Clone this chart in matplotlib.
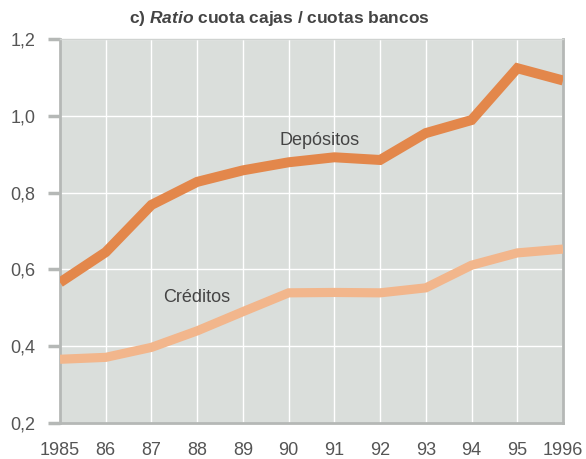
import matplotlib.pyplot as plt
from matplotlib.ticker import FuncFormatter

plt.rcParams['font.family'] = ['Liberation Sans', 'DejaVu Sans']
plt.rcParams['mathtext.fontset'] = 'custom'
plt.rcParams['mathtext.it'] = 'Liberation Sans:italic:bold'

# values
years = [1985, 1986, 1987, 1988, 1989, 1990, 1991, 1992, 1993, 1994, 1995, 1996]
year_labels = ['1985', '86', '87', '88', '89', '90', '91', '92', '93', '94', '95', '1996']
depositos = [0.566, 0.645, 0.768, 0.828, 0.858, 0.879, 0.892, 0.885, 0.955, 0.989, 1.124, 1.092]
creditos = [0.366, 0.371, 0.397, 0.440, 0.490, 0.539, 0.540, 0.539, 0.552, 0.611, 0.643, 0.653]
yticks = [0.2, 0.4, 0.6, 0.8, 1.0, 1.2]

fig = plt.figure(figsize=(5.86, 4.59), dpi=100)
ax = fig.add_axes([0.1024, 0.0784, 0.8584, 0.8366])
ax.set_facecolor('#dadedb')

ax.plot(years, depositos, color='#e3874b', lw=7.2, solid_joinstyle='miter',
        solid_capstyle='butt', zorder=3)
ax.plot(years, creditos, color='#f2b68c', lw=6.6, solid_joinstyle='miter',
        solid_capstyle='butt', zorder=3)

ax.set_xlim(1985, 1996)
ax.set_ylim(0.2, 1.2)
ax.set_xticks(years)
ax.set_xticklabels(year_labels)
ax.set_yticks(yticks)
ax.yaxis.set_major_formatter(FuncFormatter(lambda v, p: ('%.1f' % v).replace('.', ',')))

ax.grid(True, color='white', lw=1.0)
ax.set_axisbelow(True)
ax.tick_params(axis='x', length=0, pad=14, labelsize=13, labelcolor='#555555')
ax.tick_params(axis='y', length=8.6, width=2.5, color='#b5b8b6', pad=9,
               labelsize=13, labelcolor='#555555')
for s in ['left', 'bottom', 'right']:
    ax.spines[s].set_color('#b5b8b6')
    ax.spines[s].set_linewidth(2)
ax.spines['top'].set_color('#d0d3d1')
ax.spines['top'].set_linewidth(1)

ax.text(1990.68, 0.937, 'Depósitos', fontsize=13, color='#444444', ha='center', va='center')
ax.text(1987.99, 0.526, 'Créditos', fontsize=13, color='#444444', ha='center', va='center')

fig.text(279 / 586, 1 - 19 / 459, r'c) $Ratio$ cuota cajas / cuotas bancos',
         fontsize=12.5, fontweight='bold', color='#444444', ha='center', va='center')

plt.savefig('out.png', dpi=100)
